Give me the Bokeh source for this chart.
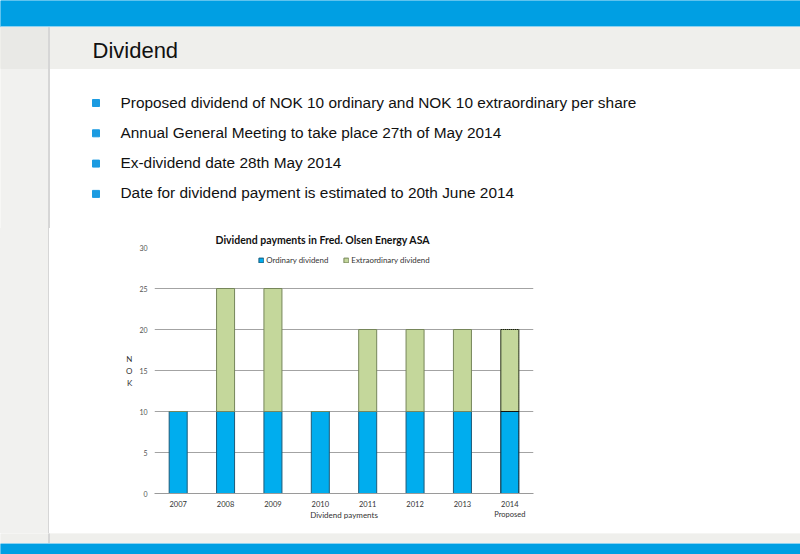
from bokeh.plotting import figure
from bokeh.layouts import column, row
from bokeh.models import (ColumnDataSource, Legend, LegendItem, CDSView, IndexFilter,
                          FixedTicker, Range1d, Div)
from bokeh.core.properties import value
from bokeh.embed import file_html
from bokeh.resources import INLINE


# ---- data -------------------------------------------------------------
years = ["2007", "2008", "2009", "2010", "2011", "2012", "2013", "2014\nProposed"]
ordinary = [10, 10, 10, 10, 10, 10, 10, 10]
extraordinary = [0, 15, 15, 0, 10, 10, 10, 10]
proposed = [False, False, False, False, False, False, False, True]
y_ticks = [0, 5, 10, 15, 20, 25, 30]
series = ["Ordinary dividend", "Extraordinary dividend"]

slide_title = "Dividend"
bullets = [
    "Proposed dividend of NOK 10 ordinary and NOK 10 extraordinary per share",
    "Annual General Meeting to take place 27th of May 2014",
    "Ex-dividend date 28th May 2014",
    "Date for dividend payment is estimated to 20th June 2014",
]
chart_title = "Dividend payments in Fred. Olsen Energy ASA"

# ---- style ------------------------------------------------------------
BLUE = "#00ADEE"
BLUE_EDGE = "#1D5A78"
GREEN = "#C4D79B"
GREEN_EDGE = "#76865A"
SLIDE_BLUE = "#009FE3"
LIGHT_LINE = "#8ED2F1"
BAND = "#EFEFEC"
SIDE = "#F1F1EF"
SIDE_TOP = "#E9E9E6"
DIVIDER = "#D6D6D6"
BULLET = "#1B9BE1"
FONT = "Liberation Sans"
CFONT = "Lato"

W = 800
HEAD_H = 228      # slide header: bands, title and bullets
CHART_H = 305     # chart row
FOOT_H = 21       # bottom band
SIDE_W = 49


def plain(width, height):
    # decoration panel whose data space is the slide pixel grid (y down)
    f = figure(width=width, height=height, x_range=Range1d(0, width),
               y_range=Range1d(height, 0), output_backend="svg",
               toolbar_location=None, x_axis_type=None, y_axis_type=None,
               min_border=0)
    f.outline_line_color = None
    f.grid.visible = False
    return f


# ---- header -------------------------------------------------------------
head = plain(W, HEAD_H)
head.quad(left=[0, 0, 48, 0, 0, 48], right=[W, W, W, 48, 48, 49],
          top=[0, 26, 27, 27, 27, 27], bottom=[26, 27, 68, HEAD_H, 68, HEAD_H],
          color=[SLIDE_BLUE, LIGHT_LINE, BAND, SIDE, SIDE_TOP, DIVIDER])
head.text(x=[92], y=[50], text=[slide_title], text_font=value(FONT),
          text_font_size="22px", text_color="#111111", text_baseline="alphabetic")

base = [107.5 + i * 30.3 for i in range(len(bullets))]
head.quad(left=[92] * len(base), right=[99] * len(base),
          top=[b - 8.5 for b in base], bottom=[b - 1.5 for b in base], color=BULLET)
head.text(x=[120] * len(base), y=[b - 6 for b in base], text=bullets,
          text_font=value(FONT), text_font_size="15.4px", text_color="#111111",
          text_baseline="alphabetic")

# ---- left strip beside the chart ---------------------------------------
side = Div(width=SIDE_W, height=CHART_H, margin=0,
           styles={"background": f"linear-gradient(to right, {SIDE} 48px, {DIVIDER} 48px)"})

# ---- chart ----------------------------------------------------------------
p = figure(width=W - SIDE_W, height=CHART_H, x_range=years, y_range=(0, 30),
           output_backend="svg", toolbar_location=None,
           min_border_left=105, min_border_right=267,
           min_border_top=19, min_border_bottom=40)
p.outline_line_color = None
p.xgrid.grid_line_color = None
p.ygrid.grid_line_color = "#A3A3A3"
p.ygrid.bounds = (0, 25)

p.title.text = chart_title
p.title.text_font = CFONT
p.title.text_font_size = "10.5px"
p.title.text_font_style = "bold"
p.title.text_color = "#111111"
p.title.align = "left"
p.title.vertical_align = "middle"
p.title.offset = 61
p.title.standoff = 2

src = ColumnDataSource(dict(year=years, ordinary=ordinary, extraordinary=extraordinary))
bars = p.vbar_stack(["ordinary", "extraordinary"], x="year", width=0.38, source=src,
                    fill_color=[BLUE, GREEN], line_color=[BLUE_EDGE, GREEN_EDGE],
                    line_width=1)

prop_idx = [i for i, f in enumerate(proposed) if f]
p.vbar_stack(["ordinary", "extraordinary"], x="year", width=0.38, source=src,
             view=CDSView(filter=IndexFilter(prop_idx)),
             fill_color=None, line_color="black", line_dash="1 1", line_width=1)

legend = Legend(items=[LegendItem(label=series[0], renderers=[bars[0]]),
                       LegendItem(label=series[1], renderers=[bars[1]])],
                orientation="horizontal", location="top_center",
                glyph_width=6, glyph_height=6, label_standoff=3, spacing=14,
                padding=0, margin=8, border_line_color=None,
                background_fill_alpha=0,
                label_text_font=CFONT, label_text_font_size="7.9px",
                label_text_color="#333333")
p.add_layout(legend)

p.yaxis.ticker = FixedTicker(ticks=y_ticks)
p.yaxis.axis_line_color = None
p.yaxis.major_tick_line_color = None
p.yaxis.minor_tick_line_color = None
p.yaxis.major_label_text_font = CFONT
p.yaxis.major_label_text_font_size = "7px"
p.yaxis.major_label_text_color = "#555555"
p.yaxis.major_label_standoff = 1
p.yaxis.axis_label = "N\nO\nK"
p.yaxis.axis_label_orientation = "horizontal"
p.yaxis.axis_label_text_font = CFONT
p.yaxis.axis_label_text_font_size = "8px"
p.yaxis.axis_label_text_font_style = "normal"
p.yaxis.axis_label_text_color = "#333333"
p.yaxis.axis_label_standoff = 4

p.xaxis.axis_line_color = "#9A9A9A"
p.xaxis.major_tick_line_color = None
p.xaxis.major_label_text_font = CFONT
p.xaxis.major_label_text_font_size = "7.5px"
p.xaxis.major_label_text_color = "#333333"
p.xaxis.major_label_standoff = 0
p.xaxis.axis_label = "Dividend payments"
p.xaxis.axis_label_text_font = CFONT
p.xaxis.axis_label_text_font_size = "8px"
p.xaxis.axis_label_text_font_style = "normal"
p.xaxis.axis_label_text_color = "#333333"
p.xaxis.axis_label_standoff = -12

# ---- bottom band ------------------------------------------------------------
foot = plain(W, FOOT_H)
foot.quad(left=[0, 48, 0, 0], right=[W, 49, W, W], top=[0, 0, 10, 11],
          bottom=[10, 10, 11, FOOT_H], color=[BAND, DIVIDER, LIGHT_LINE, SLIDE_BLUE])

page = column(head, row(side, p), foot)
open("out.html", "w").write(file_html(page, INLINE))
